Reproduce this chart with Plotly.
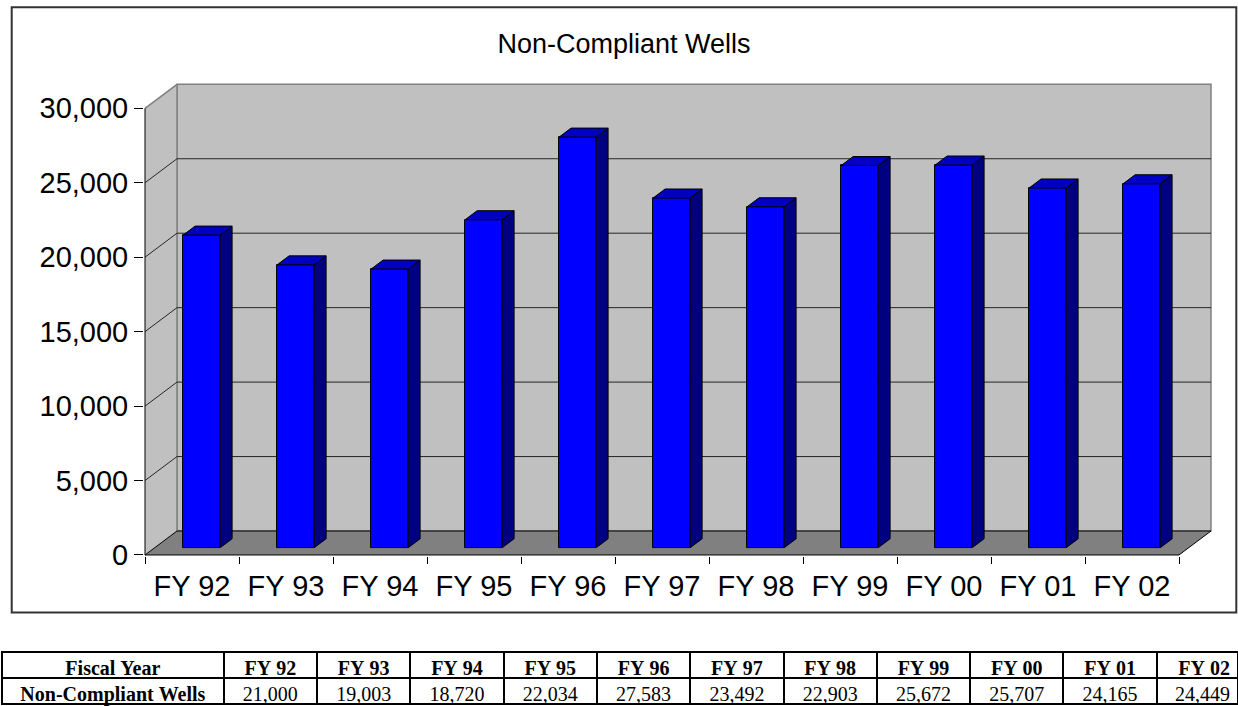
import plotly.graph_objects as go

# ---------------- data ----------------
categories = ["FY 92", "FY 93", "FY 94", "FY 95", "FY 96", "FY 97",
              "FY 98", "FY 99", "FY 00", "FY 01", "FY 02"]
wells = [21000, 19003, 18720, 22034, 27583, 23492, 22903, 25672, 25707, 24165, 24449]
y_ticks = [0, 5000, 10000, 15000, 20000, 25000, 30000]
title_text = "Non-Compliant Wells"
table_header = "Fiscal Year"
table_row = "Non-Compliant Wells"

# ---------------- geometry / style ----------------
W, H = 1238, 706
PX_FRONT_LEFT = 145.0          # pixel of front-left axis line
PX_PER_CAT = 94.0
PX_ZERO = 555.0
PX_PER_UNIT = (555.0 - 108.3) / 30000.0
DX = 32.0 / PX_PER_CAT          # depth offset in category units
DY = 24.0 / PX_PER_UNIT         # depth offset in value units
n = len(categories)

x_range = [-0.51, n - 0.5 + DX + 0.01]
y_range = [-70.0, y_ticks[-1] + DY + 80.0]

L = PX_FRONT_LEFT + (x_range[0] + 0.5) * PX_PER_CAT
R = PX_FRONT_LEFT + (x_range[1] + 0.5) * PX_PER_CAT
B = PX_ZERO - y_range[0] * PX_PER_UNIT
T = PX_ZERO - y_range[1] * PX_PER_UNIT
xdom = [L / W, R / W]
ydom = [1 - B / H, 1 - T / H]

BAR_W = 37.0 / PX_PER_CAT
F0 = 0.30      # bar front depth fraction
BD = 0.375     # bar depth fraction
base = F0 * DY
bx = [i + F0 * DX for i in range(n)]

FRONT = "#0000FF"
TOP = "#0000C0"
SIDE = "#000080"
WALL = "#C0C0C0"
FLOOR = "#808080"
FONT = "Liberation Sans, Arial, sans-serif"
SERIF = "Liberation Serif, Times New Roman, serif"
NBSP = "\u00a0"

fig = go.Figure()

# front faces
fig.add_trace(go.Bar(x=bx, y=wells, base=base, width=BAR_W,
                     marker=dict(color=FRONT, line=dict(color="black", width=1)),
                     hoverinfo="skip", showlegend=False))

# side faces and top faces
sx, sy, tx, ty = [], [], [], []
for xi, v in zip(bx, wells):
    xl = xi - BAR_W / 2
    xr = xi + BAR_W / 2
    top = base + v
    sx += [xr, xr + BD * DX, xr + BD * DX, xr, xr, None]
    sy += [base, base + BD * DY, top + BD * DY, top, base, None]
    tx += [xl, xr, xr + BD * DX, xl + BD * DX, xl, None]
    ty += [top, top, top + BD * DY, top + BD * DY, top, None]
fig.add_trace(go.Scatter(x=sx, y=sy, mode="lines", fill="toself", fillcolor=SIDE,
                         line=dict(color="black", width=1), hoverinfo="skip", showlegend=False))
fig.add_trace(go.Scatter(x=tx, y=ty, mode="lines", fill="toself", fillcolor=TOP,
                         line=dict(color="black", width=1), hoverinfo="skip", showlegend=False))

shapes = []
x0f, x1f = -0.5, n - 0.5
ymax = y_ticks[-1]
# back wall
shapes.append(dict(type="rect", xref="x", yref="y", x0=x0f + DX, x1=x1f + DX, y0=DY, y1=ymax + DY,
                   fillcolor=WALL, line=dict(color=FLOOR, width=1.5), layer="below"))
# left wall
shapes.append(dict(type="path", xref="x", yref="y",
                   path=f"M {x0f},0 L {x0f},{ymax} L {x0f+DX},{ymax+DY} L {x0f+DX},{DY} Z",
                   fillcolor=WALL, line=dict(width=0), layer="below"))
shapes.append(dict(type="line", xref="x", yref="y", x0=x0f, y0=ymax, x1=x0f + DX, y1=ymax + DY,
                   line=dict(color=FLOOR, width=1.5), layer="below"))
shapes.append(dict(type="line", xref="x", yref="y", x0=x0f + DX, y0=DY, x1=x0f + DX, y1=ymax + DY,
                   line=dict(color=FLOOR, width=1.5), layer="below"))
# gridlines
for v in y_ticks[1:-1]:
    shapes.append(dict(type="line", xref="x", yref="y", x0=x0f + DX, x1=x1f + DX, y0=v + DY, y1=v + DY,
                       line=dict(color="#262626", width=1), layer="below"))
    shapes.append(dict(type="line", xref="x", yref="y", x0=x0f, x1=x0f + DX, y0=v, y1=v + DY,
                       line=dict(color="#262626", width=1), layer="below"))
# floor
shapes.append(dict(type="path", xref="x", yref="y",
                   path=f"M {x0f},0 L {x1f},0 L {x1f+DX},{DY} L {x0f+DX},{DY} Z",
                   fillcolor=FLOOR, line=dict(color="black", width=1), layer="below"))
# front axis line
shapes.append(dict(type="line", xref="x", yref="y", x0=x0f, x1=x0f, y0=0, y1=ymax,
                   line=dict(color="black", width=1), layer="below"))
# outer border
shapes.append(dict(type="rect", xref="paper", yref="paper",
                   x0=11.7 / W, x1=1236.3 / W, y0=1 - 612.5 / H, y1=1 - 7.3 / H,
                   line=dict(color="#333333", width=2), fillcolor="rgba(0,0,0,0)", layer="below"))

# table
aligns = ["center"] * n + ["right"]
fig.add_trace(go.Table(
    domain=dict(x=[2 / W, 1.0], y=[0, 1 - 652 / H]),
    columnwidth=[221] + [93] * (n - 1) + [81],
    header=dict(values=[table_header.replace(" ", NBSP)] + [c.replace(" ", NBSP) for c in categories],
                height=26, line=dict(color="black", width=2), fill_color="white",
                align=aligns,
                font=dict(family=SERIF, size=20, color="black", weight="bold")),
    cells=dict(values=[[table_row.replace(" ", NBSP)]] + [[f"{v:,}"] for v in wells],
               height=26, line=dict(color="black", width=2), fill_color="white",
               align=aligns,
               font=dict(family=SERIF, size=20, color="black",
                         weight=["bold"] + ["normal"] * n)),
))

fig.update_layout(
    width=W, height=H,
    margin=dict(l=0, r=0, t=0, b=0, autoexpand=False),
    template="none",
    paper_bgcolor="white", plot_bgcolor="white",
    showlegend=False,
    bargap=0,
    title=dict(text=title_text, x=624 / W, y=1 - 44 / H, xanchor="center", yanchor="middle",
               font=dict(family=FONT, size=27, color="black")),
    xaxis=dict(range=x_range, domain=xdom, tickmode="array", tickvals=list(range(n)),
               ticktext=categories, ticks="", showgrid=False, zeroline=False, showline=False,
               automargin=False, fixedrange=True, ticklabelstandoff=10,
               tickfont=dict(family=FONT, size=29, color="black"),
               minor=dict(tickmode="array", tickvals=[i - 0.5 for i in range(n + 1)],
                          ticks="outside", ticklen=7, tickcolor="black", tickwidth=1, showgrid=False)),
    yaxis=dict(range=y_range, domain=ydom, tickmode="array", tickvals=y_ticks,
               tickformat=",", ticks="outside", ticklen=9, tickcolor="black", tickwidth=1,
               showgrid=False, zeroline=False, showline=False, automargin=False, fixedrange=True,
               tickfont=dict(family=FONT, size=29, color="black")),
    shapes=shapes,
)

fig.write_html("out.html", config={"displayModeBar": False},
               post_script="document.body.style.margin='0px';document.body.style.overflow='hidden';")
